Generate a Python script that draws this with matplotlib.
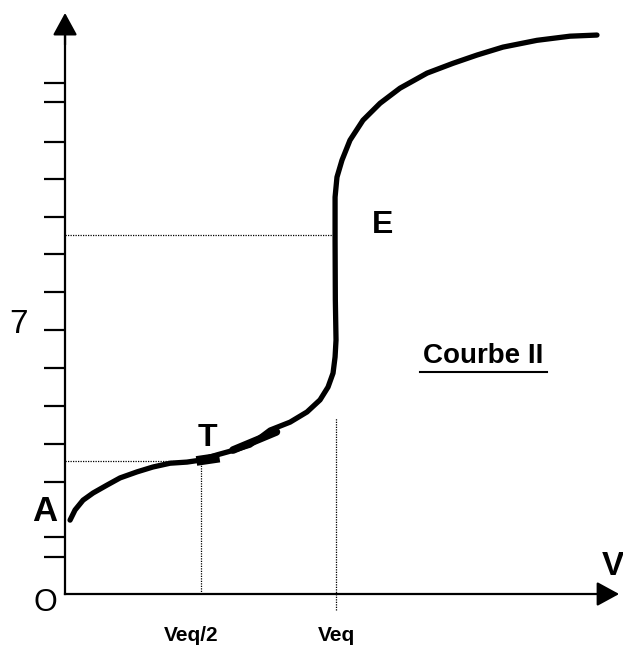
#!/usr/bin/env python3
import matplotlib
matplotlib.use("Agg")
import matplotlib.pyplot as plt

plt.rcParams['font.family'] = ['Liberation Sans', 'DejaVu Sans']

# titration curve (volume in mL, pH)
V_curve = [0.37, 0.74, 1.33, 2.07, 3.10, 4.06, 5.31, 6.49, 7.75, 9.0, 9.96, 11.2,
           12.5, 13.65, 15.13, 16.61, 17.86, 18.82, 19.41, 19.78, 19.93, 20.0,
           19.95, 19.93, 19.93, 20.07, 20.44, 21.03, 21.99, 23.25, 24.72, 26.72,
           28.63, 30.41, 32.32, 34.83, 37.27, 39.26]
pH_curve = [1.96, 2.23, 2.49, 2.68, 2.89, 3.08, 3.24, 3.37, 3.47, 3.50, 3.55, 3.69,
            3.82, 3.95, 4.35, 4.56, 4.83, 5.15, 5.49, 5.86, 6.29, 6.74,
            7.80, 9.39, 10.53, 11.06, 11.51, 12.04, 12.57, 13.02, 13.42, 13.82,
            14.08, 14.30, 14.51, 14.69, 14.80, 14.83]

# thicker strokes around the half-equivalence point (tangent T)
V_tangent1 = [9.7, 11.4]
pH_tangent1 = [3.53, 3.62]
V_tangent2 = [12.4, 15.6]
pH_tangent2 = [3.82, 4.30]

V_eq = 19.95
V_half = 10.0
pH_half = 3.52
pH_E = 9.52

y_ticks = [0.98, 1.51, 2.97, 3.98, 4.99, 5.99, 7.0, 8.01, 9.02, 10.0, 11.0, 11.99, 13.05, 13.55]

fig = plt.figure(figsize=(6.23, 6.47), dpi=100)
ax = fig.add_axes([0, 0, 1, 1])
ax.set_xlim(-4.80, 41.18)
ax.set_ylim(-1.406, 15.76)

# axes through the origin
for side in ['top', 'right']:
    ax.spines[side].set_visible(False)
ax.spines['left'].set_position(('data', 0))
ax.spines['bottom'].set_position(('data', 0))
ax.spines['left'].set_bounds(0, 15.0)
ax.spines['bottom'].set_bounds(0, 40.0)
ax.spines['left'].set_linewidth(1.6)
ax.spines['bottom'].set_linewidth(1.6)
ax.set_xticks([])
ax.set_yticks(y_ticks)
ax.set_yticklabels([''] * len(y_ticks))
ax.tick_params(axis='y', direction='out', length=15, width=1.6)

# arrow heads
ax.annotate('', xy=(0, 15.49), xytext=(0, 14.5),
            arrowprops=dict(arrowstyle='-|>,head_length=0.55,head_width=0.3',
                            mutation_scale=25, color='black', lw=1.6))
ax.annotate('', xy=(41.1, 0), xytext=(39.5, 0),
            arrowprops=dict(arrowstyle='-|>,head_length=0.55,head_width=0.3',
                            mutation_scale=25, color='black', lw=1.6))

# dotted construction lines
ax.plot([0, V_half], [pH_half, pH_half], color='black', lw=0.9, ls=(0, (1, 1)))
ax.plot([V_half, V_half], [0, pH_half], color='black', lw=0.9, ls=(0, (1, 1)))
ax.plot([0, V_eq - 0.15], [pH_E, pH_E], color='black', lw=0.9, ls=(0, (1, 1)))
ax.plot([V_eq + 0.05, V_eq + 0.05], [-0.42, 4.67], color='black', lw=0.9, ls=(0, (1, 1)))

# curve
ax.plot(V_curve, pH_curve, color='black', lw=3.8, solid_capstyle='round',
        solid_joinstyle='round')
ax.plot(V_tangent1, pH_tangent1, color='black', lw=7, solid_capstyle='butt')
ax.plot(V_tangent2, pH_tangent2, color='black', lw=5.5, solid_capstyle='round')

# labels
ax.text(-3.4, 7.15, '7', fontsize=24, ha='center', va='center')
ax.text(-1.45, -0.23, 'O', fontsize=22, ha='center', va='center')
ax.text(-1.5, 2.18, 'A', fontsize=25, fontweight='bold', ha='center', va='center')
ax.text(10.5, 4.13, 'T', fontsize=23, fontweight='bold', ha='center', va='center')
ax.text(23.4, 9.8, 'E', fontsize=23, fontweight='bold', ha='center', va='center')
ax.text(40.4, 0.72, 'V', fontsize=24, fontweight='bold', ha='center', va='center')
ax.text(9.3, -1.11, 'Veq/2', fontsize=15, fontweight='bold', ha='center', va='center')
ax.text(20.0, -1.11, 'Veq', fontsize=15, fontweight='bold', ha='center', va='center')
ax.text(30.85, 6.32, 'Courbe II', fontsize=20, fontweight='bold',
        ha='center', va='center')
ax.plot([26.2, 35.6], [5.89, 5.89], color='black', lw=1.5)

fig.savefig('out.png', dpi=100)
